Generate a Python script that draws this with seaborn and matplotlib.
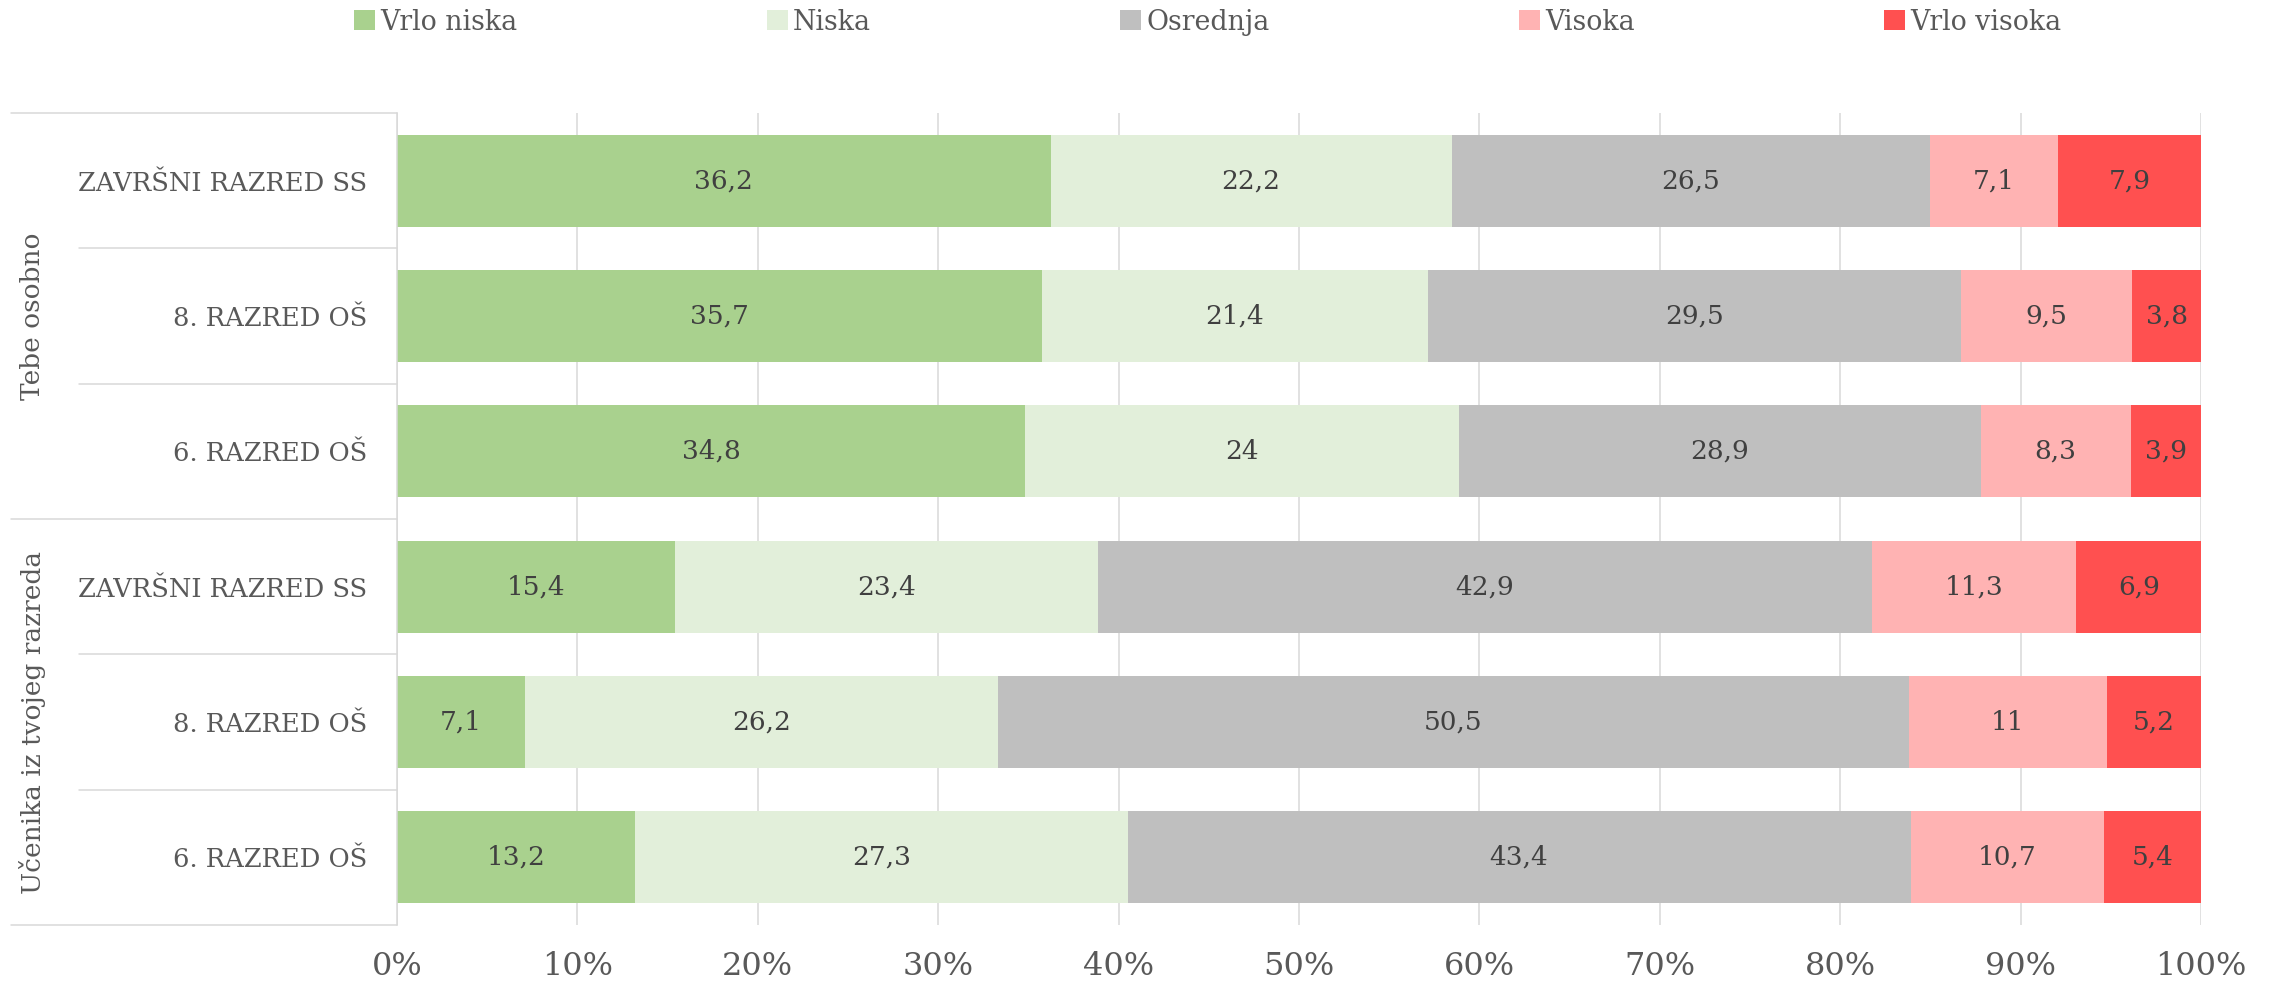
import numpy as np
import pandas as pd
import matplotlib
matplotlib.use("Agg")
import matplotlib.pyplot as plt
import matplotlib.transforms as mtransforms
from matplotlib.patches import Patch
import seaborn as sns

# ---------------- data ----------------
groups = ["Tebe osobno", "Učenika iz tvojeg razreda"]
grades = ["ZAVRŠNI RAZRED SS", "8. RAZRED OŠ", "6. RAZRED OŠ"]
levels = ["Vrlo niska", "Niska", "Osrednja", "Visoka", "Vrlo visoka"]
vrlo_niska = [36.2, 35.7, 34.8, 15.4, 7.1, 13.2]
niska = [22.2, 21.4, 24.0, 23.4, 26.2, 27.3]
osrednja = [26.5, 29.5, 28.9, 42.9, 50.5, 43.4]
visoka = [7.1, 9.5, 8.3, 11.3, 11.0, 10.7]
vrlo_visoka = [7.9, 3.8, 3.9, 6.9, 5.2, 5.4]
x_ticks = [0, 10, 20, 30, 40, 50, 60, 70, 80, 90, 100]

colors = ["#A9D18E", "#E2EFDA", "#BFBFBF", "#FFB3B3", "#FF5050"]

series = [vrlo_niska, niska, osrednja, visoka, vrlo_visoka]
row_labels = [g for _ in groups for g in grades]
row_ids = [f"r{i}" for i in range(len(row_labels))]

vals = np.array(series, dtype=float)          # shape (5, 6)
pct = vals / vals.sum(axis=0) * 100.0         # 100% stacked
cum = np.cumsum(pct, axis=0)

df = pd.DataFrame({
    "row": np.tile(row_ids, len(levels)),
    "level": np.repeat(levels, len(row_ids)),
    "cum": cum.ravel(),
})

# ---------------- style ----------------
sns.set_style("white")
plt.rcParams["font.family"] = ["DejaVu Serif", "DejaVu Sans"]

W, H = 2272, 991
fig = plt.figure(figsize=(W / 100, H / 100), dpi=100)
ax = fig.add_axes([397 / W, 1 - 925 / H, (2201 - 397) / W, (925 - 113) / H])

grid_c = "#D9D9D9"
ax.set_axisbelow(True)
ax.xaxis.grid(True, color=grid_c, linewidth=1.1)
ax.yaxis.grid(False)

# draw stacked bars from the last cumulative layer to the first
for i in reversed(range(len(levels))):
    sub = df[df["level"] == levels[i]]
    sns.barplot(data=sub, x="cum", y="row", order=row_ids, orient="h",
                color=colors[i], saturation=1, width=0.68, errorbar=None,
                linewidth=0, ax=ax)

ax.set_xlim(0, 100)
ax.set_ylim(len(row_ids) - 0.5, -0.5)
ax.set_xlabel("")
ax.set_ylabel("")

# data labels
def fmt(v):
    if abs(v - round(v)) < 1e-9:
        return str(int(round(v)))
    return f"{v:.1f}".replace(".", ",")

for i in range(len(levels)):
    for j in range(len(row_ids)):
        center = cum[i, j] - pct[i, j] / 2
        ax.text(center, j, fmt(vals[i, j]), ha="center", va="center",
                fontsize=19, color="#404040")

# ticks
ax.set_xticks(x_ticks)
ax.set_xticklabels([f"{t}%" for t in x_ticks], fontsize=23, color="#595959")
ax.set_yticks(range(len(row_ids)))
ax.set_yticklabels(row_labels, fontsize=18.5, color="#595959")
ax.tick_params(axis="x", length=0, pad=19)
ax.tick_params(axis="y", length=0, pad=21.5)

for s in ["top", "right", "bottom"]:
    ax.spines[s].set_visible(False)
ax.spines["left"].set_color(grid_c)
ax.spines["left"].set_linewidth(1.1)

# multi-level category separators
trans = mtransforms.blended_transform_factory(ax.transAxes, ax.transData)
ax_w = 2201 - 397
outer_x = (11 - 397) / ax_w
inner_x = (79 - 397) / ax_w
for yb in [-0.5, 2.5, 5.5]:
    ax.plot([outer_x, 0], [yb, yb], transform=trans, color=grid_c,
            linewidth=1.1, clip_on=False)
for yb in [0.5, 1.5, 3.5, 4.5]:
    ax.plot([inner_x, 0], [yb, yb], transform=trans, color=grid_c,
            linewidth=1.1, clip_on=False)

grp_x = (33 - 397) / ax_w
for k, g in enumerate(groups):
    ax.text(grp_x, 3 * k + 1, g, transform=trans, rotation=90,
            ha="center", va="center", fontsize=19, color="#595959")

# legend
handles = [Patch(facecolor=c, edgecolor="none") for c in colors]
fig.legend(handles, levels, loc="center left", bbox_to_anchor=(354 / W, 1 - 22 / H),
           ncol=5, frameon=False, fontsize=19.3, handlelength=0.78,
           handleheight=0.78, handletextpad=0.2, columnspacing=9.3,
           borderpad=0, borderaxespad=0, labelcolor="#595959")

fig.savefig("out.png", dpi=100)
